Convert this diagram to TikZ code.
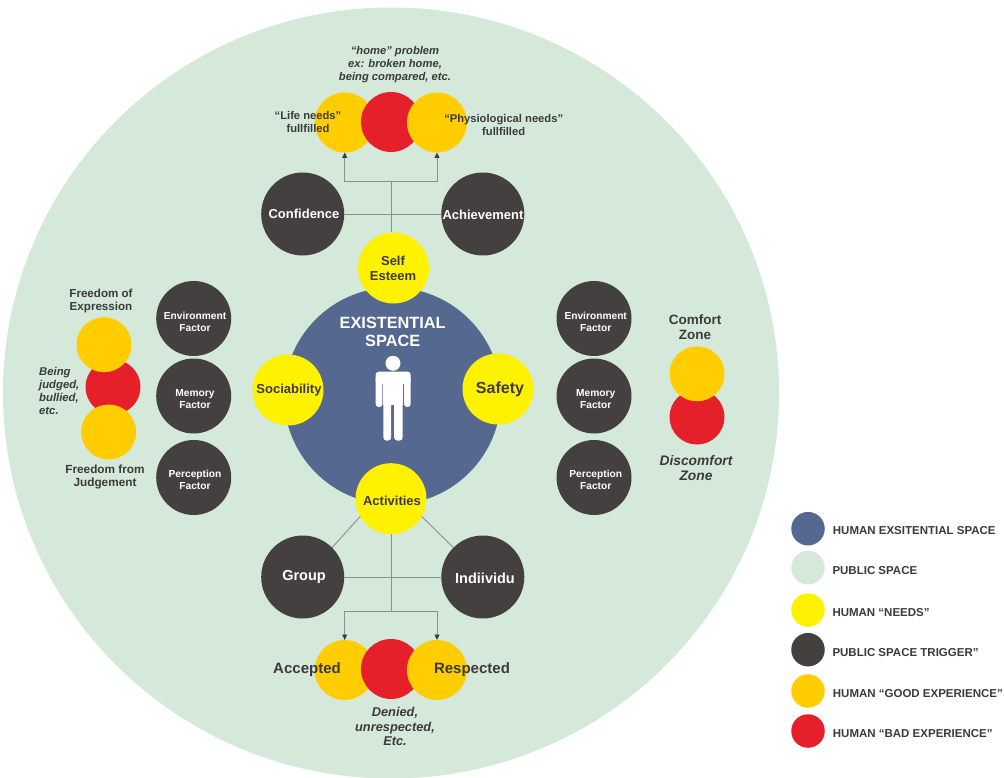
\documentclass[tikz,border=0pt]{standalone}
\usepackage{fontspec}
\setmainfont{Liberation Sans}
\usetikzlibrary{arrows.meta,shapes.geometric}
\definecolor{cgreen}{HTML}{D4E9DA}
\definecolor{cblue}{HTML}{556890}
\definecolor{cyellow}{HTML}{FFF200}
\definecolor{cdark}{HTML}{454040}
\definecolor{cgold}{HTML}{FFCD00}
\definecolor{cred}{HTML}{E6202B}
\definecolor{cline}{HTML}{8B908B}
\definecolor{ctext}{HTML}{3C3A3A}
\newcommand{\fsz}[2]{\fontsize{#1}{#2}\selectfont\bfseries}
\tikzset{
  disc/.style={circle,inner sep=0pt,outer sep=0pt,minimum size=#1},
  needs/.style={disc=71pt,fill=cyellow},
  bigdark/.style={disc=83pt,fill=cdark},
  factor/.style={disc=75pt,fill=cdark},
  trio/.style={disc=60pt,fill=#1},
  stack/.style={disc=55pt,fill=#1},
  swatch/.style={disc=33.5pt,fill=#1},
  tdark/.style={text=ctext,align=center,inner sep=0pt},
  tlight/.style={text=white,align=center,inner sep=0pt},
  lgd/.style={text=ctext,anchor=west,inner sep=0pt,font=\fsz{11.5}{13}},
  conn/.style={draw=cline,line width=0.9pt},
  tip/.style={-{Triangle[length=5.5pt,width=5pt,color=ctext]}},
}
\begin{document}
\begin{tikzpicture}[x=1pt,y=-1pt]
\clip (0,0) rectangle (1004,778);
\fill[white] (0,0) rectangle (1004,778);
% public space and existential space
\node[ellipse,inner sep=0pt,outer sep=0pt,minimum width=776pt,minimum height=771pt,fill=cgreen] (public) at (391,393) {};
\node[disc=217pt,fill=cblue] (exist) at (392.5,396) {};
\node[tlight,font=\fsz{16.3}{18}] (existT) at (392.7,331.5) {EXISTENTIAL\\SPACE};
% person
\fill[white] (393,363.3) circle (7.5);
\fill[white,rounded corners=3] (375.7,371.7) rectangle (410.7,384);
\fill[white,rounded corners=3] (375.7,376) rectangle (382.4,407);
\fill[white,rounded corners=3] (404,376) rectangle (410.7,407);
\fill[white] (383.3,376) rectangle (402.7,405);
\fill[white,rounded corners=3.5] (383.3,395) rectangle (391.2,440.7);
\fill[white,rounded corners=3.5] (394.2,395) rectangle (402.7,440.7);
% needs
\node[needs] (esteem) at (393.5,268) {};
\node[tdark,font=\fsz{13}{15}] (esteemT) at (393,268.7) {Self\\Esteem};
\node[needs] (social) at (288,390) {};
\node[tdark,font=\fsz{13}{15}] (socialT) at (289,390.5) {Sociability};
\node[needs] (safety) at (498,389) {};
\node[tdark,font=\fsz{16}{18}] (safetyT) at (500,389.5) {Safety};
\node[needs] (activ) at (391,498.7) {};
\node[tdark,font=\fsz{13}{15}] (activT) at (392,501) {Activities};
% triggers top
\node[bigdark] (conf) at (302.7,214) {};
\node[tlight,font=\fsz{13}{15}] (confT) at (304,213.5) {Confidence};
\node[bigdark] (achi) at (482.8,214) {};
\node[tlight,font=\fsz{13}{15}] (achiT) at (483,214.5) {Achievement};
% triggers bottom
\node[bigdark] (group) at (302.7,577) {};
\node[tlight,font=\fsz{14.5}{16}] (groupT) at (304,576.7) {Group};
\node[bigdark] (indi) at (482.8,577) {};
\node[tlight,font=\fsz{14.5}{16}] (indiT) at (485,578) {Indiividu};
% factors left
\node[factor] (envL) at (193.7,318.5) {};
\node[tlight,font=\fsz{10.2}{11.5}] (envLT) at (195,321.7) {Environment\\Factor};
\node[factor] (memL) at (193.7,396) {};
\node[tlight,font=\fsz{10.2}{11.5}] (memLT) at (195,399) {Memory\\Factor};
\node[factor] (perL) at (193.7,477.5) {};
\node[tlight,font=\fsz{10.2}{11.5}] (perLT) at (195,480) {Perception\\Factor};
% factors right
\node[factor] (envR) at (594,318.5) {};
\node[tlight,font=\fsz{10.2}{11.5}] (envRT) at (595.7,321.7) {Environment\\Factor};
\node[factor] (memR) at (594,396) {};
\node[tlight,font=\fsz{10.2}{11.5}] (memRT) at (595.7,399) {Memory\\Factor};
\node[factor] (perR) at (594,477.5) {};
\node[tlight,font=\fsz{10.2}{11.5}] (perRT) at (595.7,480) {Perception\\Factor};
% top trio
\node[trio=cgold] (lifeC) at (344.7,122.5) {};
\node[trio=cred] (homeC) at (391,122) {};
\node[trio=cgold] (physC) at (437,122.5) {};
% bottom trio
\node[trio=cgold] (accC) at (344.7,670) {};
\node[trio=cred] (denC) at (391,669) {};
\node[trio=cgold] (resC) at (437,670) {};
% left stack
\node[stack=cred] (judgeC) at (113,387) {};
\node[stack=cgold] (exprC) at (104,344.7) {};
\node[stack=cgold] (fromC) at (108.7,432) {};
% right stack
\node[stack=cred] (discC) at (697,417) {};
\node[stack=cgold] (comfC) at (697,373.8) {};
% connectors top
\coordinate (jtop) at (391,181);
\draw[conn] (jtop |- esteem.north) -- (jtop);
\draw[conn,tip] (jtop) -| (lifeC.south);
\draw[conn,tip] (jtop) -| (physC.south);
\draw[conn] (conf.east) -- (achi.west);
% connectors bottom
\coordinate (jbot) at (391,611);
\draw[conn] (activ.south) -- (jbot);
\draw[conn,tip] (jbot) -| (accC.north);
\draw[conn,tip] (jbot) -| (resC.north);
\draw[conn] (group.east) -- (indi.west);
\draw[conn] (activ.210) -- (group.45);
\draw[conn] (activ.330) -- (indi.135);
% notes
\node[tdark,font=\fsz{11.2}{13}\itshape] (homeT) at (395,65) {“home” problem\\ex: broken home,\\being compared, etc.};
\node[tdark,font=\fsz{11.2}{12.7}] (lifeT) at (308,121.7) {“Life needs”\\fullfilled};
\node[tdark,font=\fsz{11.2}{12.7}] (physT) at (503.7,124.7) {“Physiological needs”\\fullfilled};
\node[tdark,font=\fsz{15}{17}] (accT) at (307,669.5) {Accepted};
\node[tdark,font=\fsz{15}{17}] (resT) at (472,669.5) {Respected};
\node[tdark,font=\fsz{12.8}{14.5}\itshape] (denT) at (395,726.7) {Denied,\\unrespected,\\Etc.};
\node[tdark,font=\fsz{11.6}{13}] (exprT) at (101,301) {Freedom of\\Expression};
\node[tdark,font=\fsz{11.3}{12.7}\itshape,align=left,anchor=west] (judgeT) at (39,391) {Being\\judged,\\bullied,\\etc.};
\node[tdark,font=\fsz{11.8}{13}] (fromT) at (105,477) {Freedom from\\Judgement};
\node[tdark,font=\fsz{13.5}{15}] (comfT) at (695,326.7) {Comfort\\Zone};
\node[tdark,font=\fsz{13.8}{15}\itshape] (discT) at (696,467.7) {Discomfort\\Zone};
% legend
\node[swatch=cblue] (k1) at (808,528.7) {};
\node[swatch=cgreen] (k2) at (808,567.7) {};
\node[swatch=cyellow] (k3) at (808,610) {};
\node[swatch=cdark] (k4) at (808,649.7) {};
\node[swatch=cgold] (k5) at (808,691) {};
\node[swatch=cred] (k6) at (808,731) {};
\node[lgd] (l1) at (832.7,531) {HUMAN EXSITENTIAL SPACE};
\node[lgd] (l2) at (832.3,570.7) {PUBLIC SPACE};
\node[lgd] (l3) at (832.3,613) {HUMAN “NEEDS”};
\node[lgd] (l4) at (832.3,652.3) {PUBLIC SPACE TRIGGER”};
\node[lgd] (l5) at (832.7,693.7) {HUMAN “GOOD EXPERIENCE”};
\node[lgd] (l6) at (832.7,733.5) {HUMAN “BAD EXPERIENCE”};
\end{tikzpicture}
\end{document}
